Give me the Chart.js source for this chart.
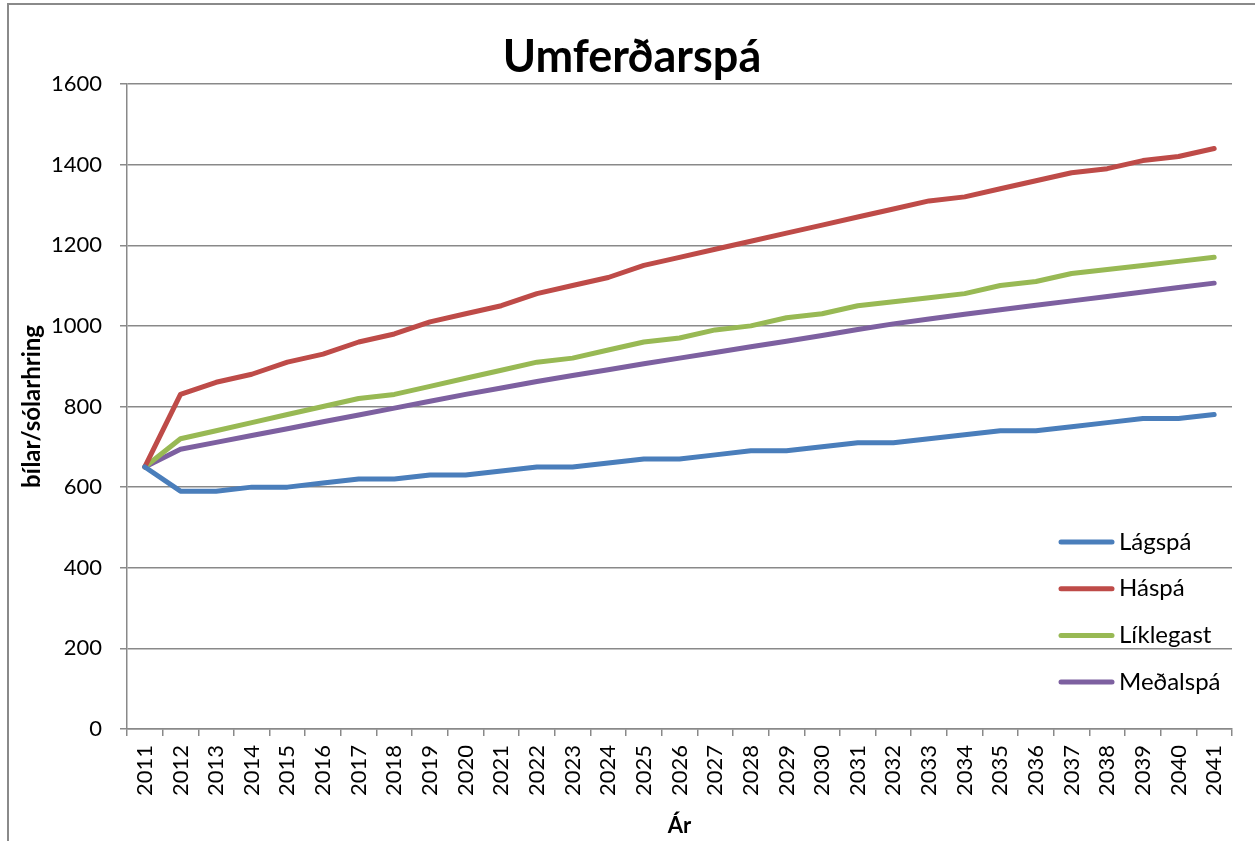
<!DOCTYPE html>
<html>
<head>
<meta charset="utf-8">
<script src="https://cdn.jsdelivr.net/npm/chart.js@4"></script>
<style>
  html, body { margin: 0; padding: 0; background: #fff; }
  canvas { display: block; }
</style>
</head>
<body>
<canvas id="chart" width="1255" height="841"></canvas>
<script>
const years = ['2011', '2012', '2013', '2014', '2015', '2016', '2017', '2018', '2019', '2020',
  '2021', '2022', '2023', '2024', '2025', '2026', '2027', '2028', '2029', '2030',
  '2031', '2032', '2033', '2034', '2035', '2036', '2037', '2038', '2039', '2040', '2041'];

const lagspa = [650, 590, 590, 600, 600, 610, 620, 620, 630, 630,
  640, 650, 650, 660, 670, 670, 680, 690, 690, 700,
  710, 710, 720, 730, 740, 740, 750, 760, 770, 770, 780];

const haspa = [650, 830, 860, 880, 910, 930, 960, 980, 1010, 1030,
  1050, 1080, 1100, 1120, 1150, 1170, 1190, 1210, 1230, 1250,
  1270, 1290, 1310, 1320, 1340, 1360, 1380, 1390, 1410, 1420, 1440];

const liklegast = [650, 720, 740, 760, 780, 800, 820, 830, 850, 870,
  890, 910, 920, 940, 960, 970, 990, 1000, 1020, 1030,
  1050, 1060, 1070, 1080, 1100, 1110, 1130, 1140, 1150, 1160, 1170];

const medalspa = [650, 694, 711, 728, 745, 762, 779, 796, 813, 830,
  846, 862, 877, 891, 906, 920, 934, 948, 962, 976,
  991, 1005, 1017, 1029, 1040, 1051, 1062, 1073, 1084, 1095, 1106];

const FONT = 'Lato, "Open Sans", sans-serif';
const GRID = '#898989';

// Excel style outer frame
const framePlugin = {
  id: 'frame',
  beforeDraw(chart) {
    const ctx = chart.ctx;
    ctx.save();
    ctx.fillStyle = '#fff';
    ctx.fillRect(0, 0, chart.width, chart.height);
    ctx.strokeStyle = '#8a8a8a';
    ctx.lineWidth = 2;
    ctx.strokeRect(8, 4, 1400, 1000);
    ctx.restore();
  }
};

// legend sits inside the plot, bottom right
const legendPlugin = {
  id: 'innerLegend',
  afterDraw(chart) {
    const ctx = chart.ctx;
    ctx.save();
    ctx.font = '24px ' + FONT;
    ctx.textBaseline = 'middle';
    ctx.lineCap = 'round';
    chart.data.datasets.forEach((ds, i) => {
      const y = 542 + i * 46.7;
      ctx.strokeStyle = ds.borderColor;
      ctx.lineWidth = 5;
      ctx.beginPath();
      ctx.moveTo(1061, y);
      ctx.lineTo(1112, y);
      ctx.stroke();
      ctx.fillStyle = '#000';
      ctx.fillText(ds.label, 1119, y);
    });
    ctx.restore();
  }
};

function line(label, data, color) {
  return {
    label: label,
    data: data,
    borderColor: color,
    backgroundColor: color,
    borderWidth: 5,
    pointRadius: 0,
    tension: 0,
    borderCapStyle: 'round',
    borderJoinStyle: 'round'
  };
}

new Chart(document.getElementById('chart'), {
  type: 'line',
  data: {
    labels: years,
    datasets: [
      line('Lágspá', lagspa, '#4a7ebb'),
      line('Háspá', haspa, '#be4b48'),
      line('Líklegast', liklegast, '#98b954'),
      line('Meðalspá', medalspa, '#7d60a0')
    ]
  },
  options: {
    responsive: false,
    animation: false,
    layout: { padding: { left: 32, right: 23, top: 0, bottom: 0 } },
    plugins: {
      legend: { display: false },
      tooltip: { enabled: false },
      title: {
        display: true,
        text: 'Umferðarspá',
        color: '#000',
        font: { family: FONT, size: 45, weight: 'bold' },
        padding: { top: 30, bottom: 0 }
      }
    },
    scales: {
      x: {
        offset: true,
        afterFit(scale) { scale.height = 112; },
        grid: {
          display: true,
          drawOnChartArea: false,
          drawTicks: true,
          tickLength: 7,
          offset: true,
          color: GRID,
          lineWidth: 1.5
        },
        border: { color: GRID, width: 1.5 },
        ticks: {
          color: '#000',
          font: { family: FONT, size: 22 },
          minRotation: 90,
          maxRotation: 90,
          autoSkip: false,
          padding: 9
        },
        title: {
          display: true,
          text: 'Ár',
          color: '#000',
          font: { family: FONT, size: 22, weight: 'bold' },
          padding: { top: 0, bottom: 2 }
        }
      },
      y: {
        min: 0,
        max: 1600,
        afterFit(scale) { scale.width = 95; },
        grid: {
          color: GRID,
          lineWidth: 1.5,
          tickLength: 7
        },
        border: { color: GRID, width: 1.5 },
        ticks: {
          stepSize: 200,
          color: '#000',
          font: { family: FONT, size: 22 },
          padding: 18,
          callback: (v) => String(v)
        },
        title: {
          display: true,
          text: 'bílar/sólarhring',
          color: '#000',
          font: { family: FONT, size: 24, weight: 'bold' },
          padding: { top: -14, bottom: 0 }
        }
      }
    }
  },
  plugins: [framePlugin, legendPlugin]
});
</script>
</body>
</html>
